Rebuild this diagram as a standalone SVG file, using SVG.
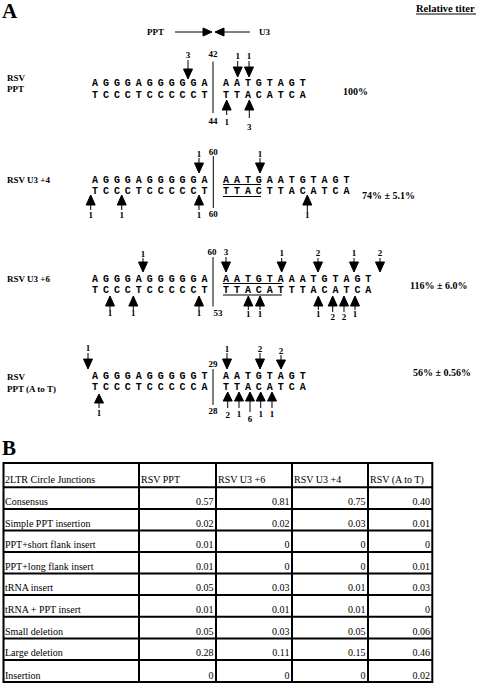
<svg xmlns="http://www.w3.org/2000/svg" width="480" height="684" viewBox="0 0 480 684">
<style>
.bg{fill:#fff}
.hd{font-family:"Liberation Serif",serif;font-weight:bold;font-size:21px;fill:#000}
.lb{font-family:"Liberation Serif",serif;font-weight:bold;font-size:9px;fill:#000}
.n{font-family:"Liberation Serif",serif;font-weight:bold;font-size:9px;fill:#000;text-anchor:middle}
.pc{font-family:"Liberation Serif",serif;font-weight:bold;font-size:10px;fill:#000}
.sq{font-family:"Liberation Mono",monospace;font-weight:bold;font-size:10px;letter-spacing:4.95px;fill:#000}
.ar{fill:#000;stroke:#000;stroke-width:1}
.ln{stroke:#000;stroke-width:1;fill:none}
.tb{stroke:#000;stroke-width:2;fill:none}
.tt{font-family:"Liberation Serif",serif;font-size:10px;fill:#000}
.tr{font-family:"Liberation Serif",serif;font-size:10px;fill:#000;text-anchor:end}
</style>
<rect class="bg" x="0" y="0" width="480" height="684"/>

<g id="panelA">
<text class="hd" x="2" y="18">A</text>
<text class="pc" x="416" y="11.5" style="font-size:10.5px">Relative titer</text>
<line class="ln" x1="416" y1="14" x2="476" y2="14"/>

<g id="header-arrows">
<text class="lb" x="147" y="35">PPT</text>
<path class="ar" d="M175,32 H203 M203,28 L212,32 L203,36 Z"/>
<path class="ar" d="M250,32 H224 M224,28 L215,32 L224,36 Z"/>
<text class="lb" x="259" y="35">U3</text>
</g>

<g id="row-ppt">
<text class="lb" x="7" y="80.5">RSV</text>
<text class="lb" x="7" y="92">PPT</text>
<text class="sq" x="92" y="86">AGGGAGGGGGA</text>
<text class="sq" x="92" y="97.5">TCCCTCCCCCT</text>
<text class="sq" x="223" y="86">AATGTAGT</text>
<text class="sq" x="223" y="97.5">TTACATCA</text>
<line class="ln" x1="213" y1="61.5" x2="213" y2="113"/>
<text class="n" x="213" y="56.5">42</text>
<text class="n" x="213" y="123.5">44</text>
<path class="ar" d="M188,60 V69 M183.5,69 H192.5 L188,79 Z"/>
<text class="n" x="188" y="58">3</text>
<path class="ar" d="M237.7,61 V67 M233.2,67 H242.2 L237.7,77 Z"/>
<text class="n" x="237.7" y="59">1</text>
<path class="ar" d="M249,61 V67 M244.5,67 H253.5 L249,77 Z"/>
<text class="n" x="249" y="59">1</text>
<path class="ar" d="M226.7,115 V110 M222.2,110 H231.2 L226.7,100 Z"/>
<text class="n" x="226.7" y="125">1</text>
<path class="ar" d="M249.3,118 V110 M244.8,110 H253.8 L249.3,100 Z"/>
<text class="n" x="249.3" y="130">3</text>
<text class="pc" x="343" y="95">100%</text>
</g>

<g id="row-u3p4">
<text class="lb" x="7" y="182.5">RSV U3 +4</text>
<text class="sq" x="92" y="182.5">AGGGAGGGGGA</text>
<text class="sq" x="92" y="194">TCCCTCCCCCT</text>
<text class="sq" x="223" y="182.5">AATGAATGTAGT</text>
<text class="sq" x="223" y="194">TTACTTACATCA</text>
<line class="ln" x1="223" y1="184.5" x2="261" y2="184.5"/>
<line class="ln" x1="223" y1="196.5" x2="261" y2="196.5"/>
<line class="ln" x1="213.3" y1="156" x2="213.3" y2="208"/>
<text class="n" x="213.3" y="154.5">60</text>
<text class="n" x="213.3" y="216.5">60</text>
<path class="ar" d="M199,158 V163 M194.5,163 H203.5 L199,173 Z"/>
<text class="n" x="199" y="156.5">1</text>
<path class="ar" d="M260,158 V163 M255.5,163 H264.5 L260,173 Z"/>
<text class="n" x="260" y="156.5">1</text>
<path class="ar" d="M90.7,210 V205 M86.2,205 H95.2 L90.7,195 Z"/>
<text class="n" x="90.7" y="218">1</text>
<path class="ar" d="M121.7,210 V205 M117.2,205 H126.2 L121.7,195 Z"/>
<text class="n" x="121.7" y="218">1</text>
<path class="ar" d="M199,210 V205 M194.5,205 H203.5 L199,195 Z"/>
<text class="n" x="199" y="218">1</text>
<path class="ar" d="M307.3,212 V205 M302.8,205 H311.8 L307.3,195 Z"/>
<text class="n" x="307.3" y="218">1</text>
<text class="pc" x="362" y="199">74% ± 5.1%</text>
</g>

<g id="row-u3p6">
<text class="lb" x="7" y="281.5">RSV  U3 +6</text>
<text class="sq" x="92" y="281.5">AGGGAGGGGGA</text>
<text class="sq" x="92" y="292.5">TCCCTCCCCCT</text>
<text class="sq" x="223" y="281.5">AATGTAAATGTAGT</text>
<text class="sq" x="223" y="292.5">TTACATTTACATCA</text>
<line class="ln" x1="223" y1="283.5" x2="282" y2="283.5"/>
<line class="ln" x1="223" y1="295" x2="282" y2="295"/>
<line class="ln" x1="213" y1="257" x2="213" y2="306.5"/>
<text class="n" x="212" y="255">60</text>
<text class="n" x="218" y="315.5">53</text>
<path class="ar" d="M143,258 V262 M138.5,262 H147.5 L143,272 Z"/>
<text class="n" x="143" y="256.5">1</text>
<path class="ar" d="M226,257 V262 M221.5,262 H230.5 L226,272 Z"/>
<text class="n" x="226" y="255">3</text>
<path class="ar" d="M281.7,258 V262 M277.2,262 H286.2 L281.7,272 Z"/>
<text class="n" x="281.7" y="256">1</text>
<path class="ar" d="M318,258 V262 M313.5,262 H322.5 L318,272 Z"/>
<text class="n" x="318" y="256">2</text>
<path class="ar" d="M354,258 V262 M349.5,262 H358.5 L354,272 Z"/>
<text class="n" x="354" y="256">1</text>
<path class="ar" d="M380,258 V262 M375.5,262 H384.5 L380,272 Z"/>
<text class="n" x="380" y="256">2</text>
<path class="ar" d="M110,310 V306 M105.5,306 H114.5 L110,296 Z"/>
<text class="n" x="110" y="316">1</text>
<path class="ar" d="M133.3,310 V306 M128.8,306 H137.8 L133.3,296 Z"/>
<text class="n" x="133.3" y="316">1</text>
<path class="ar" d="M199,310 V306 M194.5,306 H203.5 L199,296 Z"/>
<text class="n" x="199" y="316">1</text>
<path class="ar" d="M248.3,310 V306 M243.8,306 H252.8 L248.3,296 Z"/>
<text class="n" x="248.3" y="317">1</text>
<path class="ar" d="M260,310 V306 M255.5,306 H264.5 L260,296 Z"/>
<text class="n" x="260" y="317">1</text>
<path class="ar" d="M318.3,310 V306 M313.8,306 H322.8 L318.3,296 Z"/>
<text class="n" x="318.3" y="317">1</text>
<path class="ar" d="M332.7,312 V306 M328.2,306 H337.2 L332.7,296 Z"/>
<text class="n" x="332.7" y="320">2</text>
<path class="ar" d="M344,312 V306 M339.5,306 H348.5 L344,296 Z"/>
<text class="n" x="344" y="320">2</text>
<path class="ar" d="M355,310 V306 M350.5,306 H359.5 L355,296 Z"/>
<text class="n" x="355" y="317">1</text>
<text class="pc" x="410" y="289">116% ± 6.0%</text>
</g>

<g id="row-atot">
<text class="lb" x="7" y="380">RSV</text>
<text class="lb" x="7" y="391.5">PPT (A to T)</text>
<text class="sq" x="92" y="379">AGGGAGGGGGT</text>
<text class="sq" x="92" y="390">TCCCTCCCCCA</text>
<text class="sq" x="223" y="379">AATGTAGT</text>
<text class="sq" x="223" y="390">TTACATCA</text>
<line class="ln" x1="213" y1="369" x2="213" y2="405"/>
<text class="n" x="213" y="366.5">29</text>
<text class="n" x="213" y="414.3">28</text>
<path class="ar" d="M88,353 V359 M83.5,359 H92.5 L88,369 Z"/>
<text class="n" x="88" y="351">1</text>
<path class="ar" d="M227,353 V359 M222.5,359 H231.5 L227,369 Z"/>
<text class="n" x="227" y="351.5">1</text>
<path class="ar" d="M260,353 V359 M255.5,359 H264.5 L260,369 Z"/>
<text class="n" x="260" y="351.5">2</text>
<path class="ar" d="M281,355 V360 M276.5,360 H285.5 L281,369 Z"/>
<text class="n" x="281" y="353.5">2</text>
<path class="ar" d="M99,408 V403 M94.5,403 H103.5 L99,394 Z"/>
<text class="n" x="99" y="416">1</text>
<path class="ar" d="M227.7,408 V401 M223.2,401 H232.2 L227.7,392 Z"/>
<text class="n" x="227.7" y="418">2</text>
<path class="ar" d="M239,408 V401 M234.5,401 H243.5 L239,392 Z"/>
<text class="n" x="239" y="416.5">1</text>
<path class="ar" d="M250,412 V401 M245.5,401 H254.5 L250,392 Z"/>
<text class="n" x="250" y="421.5">6</text>
<path class="ar" d="M260.7,408 V401 M256.2,401 H265.2 L260.7,392 Z"/>
<text class="n" x="260.7" y="416.5">1</text>
<path class="ar" d="M272,408 V401 M267.5,401 H276.5 L272,392 Z"/>
<text class="n" x="272" y="416.5">1</text>
<text class="pc" x="413" y="376">56% ± 0.56%</text>
</g>
</g>

<g id="panelB">
<text class="hd" x="2" y="455">B</text>
<g id="table-grid">
<rect class="tb" x="3.5" y="463" width="428.8" height="219"/>
<line class="tb" x1="139" y1="463" x2="139" y2="682"/>
<line class="tb" x1="216" y1="463" x2="216" y2="682"/>
<line class="tb" x1="292" y1="463" x2="292" y2="682"/>
<line class="tb" x1="368" y1="463" x2="368" y2="682"/>
<line class="tb" x1="3.5" y1="487.3" x2="432.3" y2="487.3"/>
<line class="tb" x1="3.5" y1="509" x2="432.3" y2="509"/>
<line class="tb" x1="3.5" y1="530.5" x2="432.3" y2="530.5"/>
<line class="tb" x1="3.5" y1="552" x2="432.3" y2="552"/>
<line class="tb" x1="3.5" y1="573.5" x2="432.3" y2="573.5"/>
<line class="tb" x1="3.5" y1="595" x2="432.3" y2="595"/>
<line class="tb" x1="3.5" y1="616.8" x2="432.3" y2="616.8"/>
<line class="tb" x1="3.5" y1="638.5" x2="432.3" y2="638.5"/>
<line class="tb" x1="3.5" y1="660" x2="432.3" y2="660"/>
</g>
<g id="table-header">
<text class="tt" x="5" y="483">2LTR Circle Junctions</text>
<text class="tt" x="141" y="483">RSV PPT</text>
<text class="tt" x="218" y="483">RSV U3 +6</text>
<text class="tt" x="294" y="483">RSV U3 +4</text>
<text class="tt" x="370" y="483">RSV (A to T)</text>
</g>
<g id="table-body">
<text class="tt" x="5" y="505">Consensus</text>
<text class="tr" x="213.5" y="505">0.57</text><text class="tr" x="289.5" y="505">0.81</text><text class="tr" x="365.5" y="505">0.75</text><text class="tr" x="430" y="505">0.40</text>
<text class="tt" x="5" y="526.5">Simple PPT insertion</text>
<text class="tr" x="213.5" y="526.5">0.02</text><text class="tr" x="289.5" y="526.5">0.02</text><text class="tr" x="365.5" y="526.5">0.03</text><text class="tr" x="430" y="526.5">0.01</text>
<text class="tt" x="5" y="548">PPT+short flank insert</text>
<text class="tr" x="213.5" y="548">0.01</text><text class="tr" x="289.5" y="548">0</text><text class="tr" x="365.5" y="548">0</text><text class="tr" x="430" y="548">0</text>
<text class="tt" x="5" y="569.5">PPT+long flank insert</text>
<text class="tr" x="213.5" y="569.5">0.01</text><text class="tr" x="289.5" y="569.5">0</text><text class="tr" x="365.5" y="569.5">0</text><text class="tr" x="430" y="569.5">0.01</text>
<text class="tt" x="5" y="591">tRNA insert</text>
<text class="tr" x="213.5" y="591">0.05</text><text class="tr" x="289.5" y="591">0.03</text><text class="tr" x="365.5" y="591">0.01</text><text class="tr" x="430" y="591">0.03</text>
<text class="tt" x="5" y="612.5">tRNA + PPT insert</text>
<text class="tr" x="213.5" y="612.5">0.01</text><text class="tr" x="289.5" y="612.5">0.01</text><text class="tr" x="365.5" y="612.5">0.01</text><text class="tr" x="430" y="612.5">0</text>
<text class="tt" x="5" y="634.5">Small deletion</text>
<text class="tr" x="213.5" y="634.5">0.05</text><text class="tr" x="289.5" y="634.5">0.03</text><text class="tr" x="365.5" y="634.5">0.05</text><text class="tr" x="430" y="634.5">0.06</text>
<text class="tt" x="5" y="656">Large deletion</text>
<text class="tr" x="213.5" y="656">0.28</text><text class="tr" x="289.5" y="656">0.11</text><text class="tr" x="365.5" y="656">0.15</text><text class="tr" x="430" y="656">0.46</text>
<text class="tt" x="5" y="678.5">Insertion</text>
<text class="tr" x="213.5" y="678.5">0</text><text class="tr" x="289.5" y="678.5">0</text><text class="tr" x="365.5" y="678.5">0</text><text class="tr" x="430" y="678.5">0.02</text>
</g>
</g>
</svg>
